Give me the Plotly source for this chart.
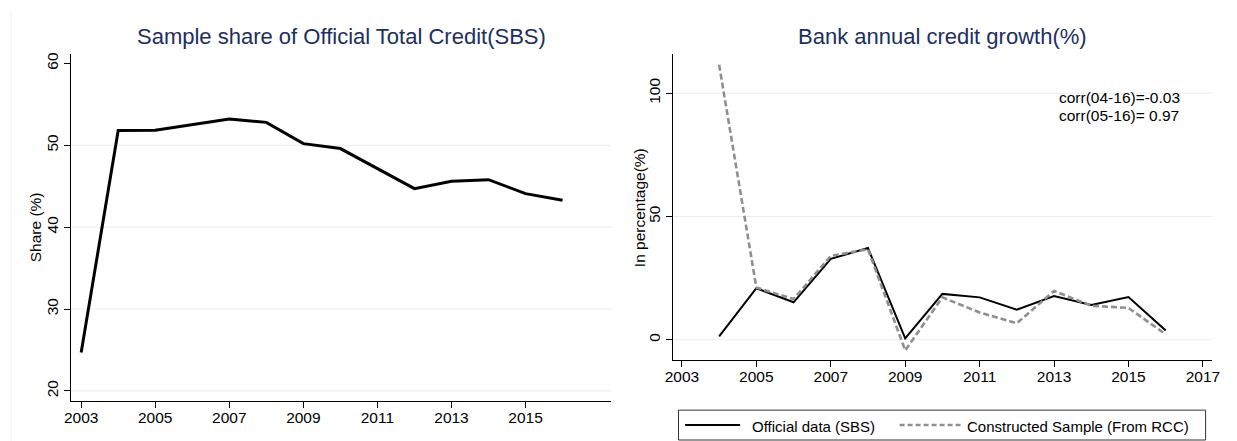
import plotly.graph_objects as go

# ---- data -------------------------------------------------------------
share_years = [2003, 2004, 2005, 2006, 2007, 2008, 2009, 2010, 2011, 2012, 2013, 2014, 2015, 2016]
share_pct = [24.7, 51.8, 51.85, 52.5, 53.2, 52.8, 50.2, 49.6, 47.1, 44.7, 45.6, 45.8, 44.1, 43.3]

growth_years = [2004, 2005, 2006, 2007, 2008, 2009, 2010, 2011, 2012, 2013, 2014, 2015, 2016]
official_growth = [1.4, 20.9, 15.2, 32.8, 37.2, 0.6, 18.6, 17.2, 12.2, 17.7, 14.1, 17.3, 3.8]
constructed_growth = [111.5, 21.2, 16.5, 34.0, 36.7, -4.3, 17.2, 11.1, 6.7, 19.8, 13.8, 12.9, 2.2]

left_xticks = [2003, 2005, 2007, 2009, 2011, 2013, 2015]
right_xticks = [2003, 2005, 2007, 2009, 2011, 2013, 2015, 2017]
left_yticks = [20, 30, 40, 50, 60]
right_yticks = [0, 50, 100]
left_grid = [20, 30, 40, 50]
right_grid = [0, 50, 100]

left_title = "Sample share of Official Total Credit(SBS)"
right_title = "Bank annual credit growth(%)"
left_ylabel = "Share (%)"
right_ylabel = "In percentage(%)"
official_name = "Official data (SBS)"
constructed_name = "Constructed Sample (From RCC)"
corr_notes = ["corr(04-16)=-0.03", "corr(05-16)= 0.97"]

# ---- page geometry (pixels) ------------------------------------------
W, H = 1237, 441
FONT = "Liberation Sans, Arial, sans-serif"
TITLE_COLOR = "#1c2f5e"
GRID_COLOR = "#e6eef0"
GRAY = "#8f8f8f"


def px(x):
    return x / W


def py(y):
    return 1 - y / H


fig = go.Figure()

fig.add_trace(go.Scatter(
    x=share_years, y=share_pct, mode="lines", name="Share",
    line=dict(color="black", width=3), xaxis="x", yaxis="y", showlegend=False,
))
fig.add_trace(go.Scatter(
    x=growth_years, y=official_growth, mode="lines", name=official_name,
    line=dict(color="black", width=2), xaxis="x2", yaxis="y2", showlegend=False,
))
fig.add_trace(go.Scatter(
    x=growth_years, y=constructed_growth, mode="lines", name=constructed_name,
    line=dict(color=GRAY, width=2.6, dash="6px,3px"), xaxis="x2", yaxis="y2",
    showlegend=False,
))

axis_common = dict(
    showline=True, linecolor="black", linewidth=1,
    ticks="outside", ticklen=6, tickcolor="black", tickwidth=1,
    showgrid=False, zeroline=False,
    tickfont=dict(family=FONT, size=15.5, color="black"),
)

fig.update_layout(
    width=W, height=H,
    margin=dict(l=0, r=0, t=0, b=0),
    paper_bgcolor="white", plot_bgcolor="white",
    font=dict(family=FONT, color="black"),
    xaxis=dict(
        axis_common, domain=[px(64), px(611)], anchor="y",
        range=[2002.73, 2017.31], tickvals=left_xticks, ticklabelstandoff=-4,
    ),
    yaxis=dict(
        axis_common, domain=[py(401), py(52.3)], anchor="x",
        range=[18.75, 61.14], tickvals=left_yticks, tickangle=-90,
    ),
    xaxis2=dict(
        axis_common, domain=[px(673.7), px(1220)], anchor="y2",
        range=[2002.76, 2017.25], tickvals=right_xticks, ticklabelstandoff=-4,
    ),
    yaxis2=dict(
        axis_common, domain=[py(360), py(52.7)], anchor="x2",
        range=[-8.35, 115.7], tickvals=right_yticks, tickangle=-90,
    ),
)

shapes = []
# horizontal grid lines
for v in left_grid:
    shapes.append(dict(type="line", xref="x domain", yref="y", x0=0, x1=1, y0=v, y1=v,
                       line=dict(color=GRID_COLOR, width=1), layer="below"))
for v in right_grid:
    shapes.append(dict(type="line", xref="x2 domain", yref="y2", x0=0, x1=1, y0=v, y1=v,
                       line=dict(color=GRID_COLOR, width=1), layer="below"))
# faint frame edge on the left
shapes.append(dict(type="line", xref="paper", yref="paper", x0=px(3), x1=px(3),
                   y0=py(8), y1=py(441), line=dict(color="#eef4f6", width=1)))

# legend box under the right panel
leg_top, leg_bot = 410, 440
leg_mid = (leg_top + leg_bot) / 2
shapes.append(dict(type="rect", xref="paper", yref="paper",
                   x0=px(679.3), x1=px(1213.3), y0=py(leg_bot), y1=py(leg_top),
                   line=dict(color="#333333", width=1), fillcolor="white"))
shapes.append(dict(type="line", xref="paper", yref="paper",
                   x0=px(686), x1=px(741.7), y0=py(leg_mid), y1=py(leg_mid),
                   line=dict(color="black", width=2)))
shapes.append(dict(type="line", xref="paper", yref="paper",
                   x0=px(903.3), x1=px(965), y0=py(leg_mid), y1=py(leg_mid),
                   line=dict(color=GRAY, width=2.6, dash="5px,3px")))

annotations = [
    dict(text=left_title, xref="paper", yref="paper", x=px((64 + 611) / 2), y=py(35),
         xanchor="center", yanchor="middle", showarrow=False,
         font=dict(family=FONT, size=22, color=TITLE_COLOR)),
    dict(text=right_title, xref="paper", yref="paper", x=px((673.7 + 1220) / 2), y=py(35),
         xanchor="center", yanchor="middle", showarrow=False,
         font=dict(family=FONT, size=22, color=TITLE_COLOR)),
    # y-axis titles
    dict(text=left_ylabel, xref="paper", yref="paper", x=px(28), y=py((52.3 + 401) / 2),
         xanchor="center", yanchor="middle", showarrow=False, textangle=-90,
         font=dict(family=FONT, size=15.5, color="black")),
    dict(text=right_ylabel, xref="paper", yref="paper", x=px(640), y=py((52.7 + 360) / 2),
         xanchor="center", yanchor="middle", showarrow=False, textangle=-90,
         font=dict(family=FONT, size=15.5, color="black")),
    # legend labels
    dict(text=official_name, xref="paper", yref="paper", x=px(752), y=py(leg_mid + 1),
         xanchor="left", yanchor="middle", showarrow=False,
         font=dict(family=FONT, size=15, color="black")),
    dict(text=constructed_name, xref="paper", yref="paper", x=px(970), y=py(leg_mid + 1),
         xanchor="left", yanchor="middle", showarrow=False,
         font=dict(family=FONT, size=15, color="black")),
]
for i, note in enumerate(corr_notes):
    annotations.append(dict(text=note, xref="paper", yref="paper", x=px(1063), y=py(96 + 18.5 * i),
                            xanchor="left", yanchor="middle", showarrow=False,
                            font=dict(family=FONT, size=15.5, color="black")))

fig.update_layout(shapes=shapes, annotations=annotations)

fig.write_html("out.html")
